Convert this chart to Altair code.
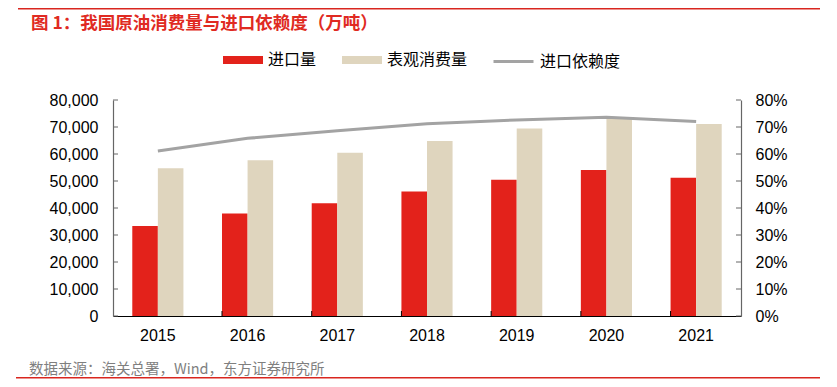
import altair as alt
import pandas as pd

# ---- data ----
years = ["2015", "2016", "2017", "2018", "2019", "2020", "2021"]
imports = [33300, 38000, 41800, 46100, 50500, 54100, 51200]          # 进口量 (万吨)
consumption = [54700, 57700, 60500, 64800, 69400, 73000, 71100]      # 表观消费量 (万吨)
dependence = [0.611, 0.658, 0.686, 0.712, 0.726, 0.736, 0.720]       # 进口依赖度
series_names = ["进口量", "表观消费量"]
line_name = "进口依赖度"
left_ticks = [0, 10000, 20000, 30000, 40000, 50000, 60000, 70000, 80000]
right_ticks = [0.0, 0.1, 0.2, 0.3, 0.4, 0.5, 0.6, 0.7, 0.8]
title_text = "图 1：我国原油消费量与进口依赖度（万吨）"
source_text = "数据来源：海关总署，Wind，东方证券研究所"

RED = "#E3221B"
BEIGE = "#DFD5BE"
GRAY = "#A3A3A3"
TITLE_RED = "#E02A22"
CJK = "Noto Sans CJK SC"
NUM = "Liberation Sans"
W, H = 628, 216

bar_df = pd.DataFrame({
    "year": years * 2,
    "series": [series_names[0]] * len(years) + [series_names[1]] * len(years),
    "value": imports + consumption,
})
line_df = pd.DataFrame({"year": years, "dep": dependence, "name": [line_name] * len(years)})
lt_df = pd.DataFrame({"v": left_ticks})
rt_df = pd.DataFrame({"v": right_ticks})
yr_df = pd.DataFrame({"year": years[1:]})

x_scale = alt.Scale(domain=years, paddingInner=0.43, paddingOuter=0.215)
x_axis = alt.Axis(title=None, labelFontSize=16, labelFont=NUM, labelColor="#000000",
                  labelPadding=11, ticks=False, domainColor="#000000", domainWidth=1.2,
                  labelAngle=0, grid=False)

bars = alt.Chart(bar_df).mark_bar().encode(
    x=alt.X("year:N", sort=years, scale=x_scale, axis=x_axis),
    xOffset=alt.XOffset("series:N", sort=series_names, scale=alt.Scale(domain=series_names, paddingInner=0, paddingOuter=0)),
    y=alt.Y("value:Q", scale=alt.Scale(domain=[0, 80000], nice=False),
            axis=alt.Axis(orient="left", title=None, values=left_ticks, format=",.0f",
                          labelFontSize=16, labelFont=NUM, labelColor="#000000",
                          labelPadding=15, ticks=False, domainColor="#666666",
                          domainWidth=1.2, grid=False)),
    color=alt.Color("series:N", scale=alt.Scale(domain=series_names, range=[RED, BEIGE]),
                    legend=alt.Legend(title=None, orient="none", direction="horizontal",
                                      legendX=110, legendY=-60,
                                      symbolType="M-1,-0.2H1V0.2H-1Z", symbolSize=1600,
                                      symbolStrokeWidth=0, labelFont=CJK, labelFontSize=16,
                                      labelColor="#000000", labelOffset=5, columnPadding=25,
                                      padding=0)),
)

line = alt.Chart(line_df).mark_line(strokeWidth=3).encode(
    x=alt.X("year:N", sort=years, scale=x_scale, axis=x_axis),
    y=alt.Y("dep:Q", scale=alt.Scale(domain=[0, 0.8], nice=False),
            axis=alt.Axis(orient="right", title=None, values=right_ticks, format=".0%",
                          labelFontSize=16, labelFont=NUM, labelColor="#000000",
                          labelPadding=14, ticks=False, domainColor="#666666",
                          domainWidth=1.2, grid=False)),
    stroke=alt.Stroke("name:N", scale=alt.Scale(domain=[line_name], range=[GRAY]),
                      legend=alt.Legend(title=None, orient="none", direction="horizontal",
                                        legendX=379, legendY=-60, symbolType="stroke",
                                        symbolSize=1600, symbolStrokeWidth=3,
                                        labelFont=CJK, labelFontSize=16, labelColor="#000000",
                                        labelOffset=5, padding=0)),
)

left_ticks_layer = alt.Chart(lt_df).mark_rule(color="#666666", strokeWidth=1).encode(
    y=alt.Y("v:Q", scale=alt.Scale(domain=[0, 80000], nice=False), axis=None),
    x=alt.value(0), x2=alt.value(5),
)
right_ticks_layer = alt.Chart(rt_df).mark_rule(color="#666666", strokeWidth=1).encode(
    y=alt.Y("v:Q", scale=alt.Scale(domain=[0, 0.8], nice=False), axis=None),
    x=alt.value(W - 5), x2=alt.value(W),
)
x_ticks_layer = alt.Chart(yr_df).mark_rule(color="#000000", strokeWidth=1).encode(
    x=alt.X("year:N", sort=years, scale=x_scale, axis=x_axis, bandPosition=0),
    y=alt.value(H - 5), y2=alt.value(H),
)

deco = pd.DataFrame({"a": [0]})
top_line = alt.Chart(deco).mark_rule(color="#D9261F", strokeWidth=1.5).encode(
    x=alt.value(-95), x2=alt.value(707), y=alt.value(-91.2))
bottom_line = alt.Chart(deco).mark_rule(color="#D9261F", strokeWidth=1.5).encode(
    x=alt.value(-97), x2=alt.value(707), y=alt.value(277.8))
title = alt.Chart(pd.DataFrame({"t": [title_text]})).mark_text(
    align="left", baseline="alphabetic", font=CJK, fontSize=17.5, fontWeight="bold",
    color=TITLE_RED).encode(x=alt.value(-82), y=alt.value(-71.5), text="t:N")
source = alt.Chart(pd.DataFrame({"t": [source_text]})).mark_text(
    align="left", baseline="alphabetic", font=CJK, fontSize=14.5,
    color="#7F7F7F").encode(x=alt.value(-84), y=alt.value(274), text="t:N")

chart = alt.layer(
    bars, line, left_ticks_layer, right_ticks_layer, x_ticks_layer,
    top_line, bottom_line, title, source,
).resolve_scale(y="independent").properties(
    width=W, height=H,
    autosize=alt.AutoSizeParams(type="none"),
    padding={"left": 105, "top": 92, "right": 86, "bottom": 63},
    background="white",
).configure_view(stroke=None)

chart.save("out.html", embed_options={"renderer": "svg", "actions": False})
